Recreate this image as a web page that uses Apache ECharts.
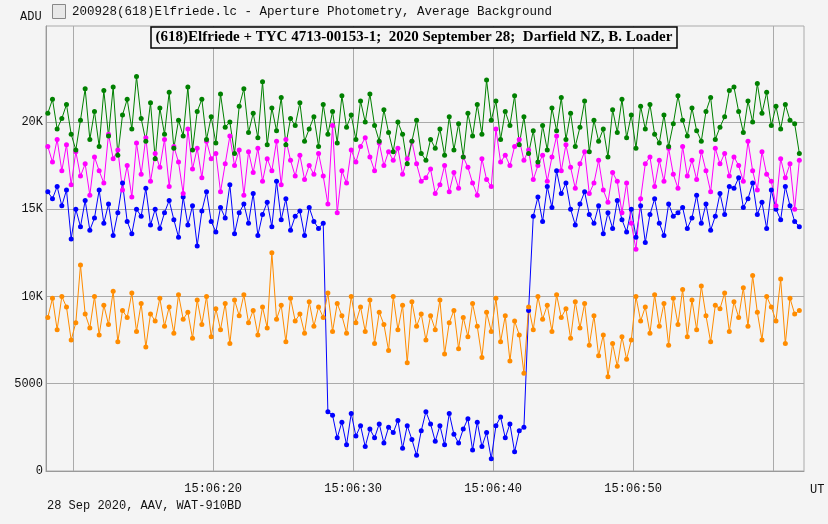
<!DOCTYPE html>
<html>
<head>
<meta charset="utf-8">
<script src="https://cdn.jsdelivr.net/npm/echarts@6/dist/echarts.min.js"></script>
<style>
html,body{margin:0;padding:0;background:#f4f4f4;}
#chart{width:828px;height:524px;}
</style>
</head>
<body>
<div id="chart"></div>
<script>
// seconds after 15:06:00, one sample every 1/3 s
var tStart = 8.2, tStep = 1 / 3;
var tickSeconds = [10, 20, 30, 40, 50, 60];
var labelSeconds = [20, 30, 40, 50];
var yTicks = [0, 5000, 10000, 15000, 20000];

// ADU in thousands, rows of one second
var blueK = [
16.0,15.6,16.3, 15.2,16.1,13.3, 15.0,14.0,15.5, 13.8,14.5,16.1, 14.2,15.3,13.5,
14.8,16.5,14.3, 13.6,15.0,14.6, 16.2,14.1,15.0, 13.9,14.8,15.5, 14.4,13.4,15.7,
14.1,15.2,12.9, 14.9,16.0,14.3, 13.7,15.1,14.5, 16.4,13.6,14.8, 15.3,14.2,15.9,
13.5,14.7,15.4, 14.0,16.6,14.4, 15.6,13.8,14.6, 14.9,13.5,15.1, 14.3,13.9,14.2,
3.4,3.2,1.9, 2.8,1.5,3.3, 2.0,2.6,1.4, 2.4,1.9,2.7, 1.6,2.5,2.2,
2.9,1.3,2.6, 1.8,0.9,2.3, 3.4,2.7,1.7, 2.6,1.5,3.3, 2.1,1.6,2.4,
3.0,1.2,2.8, 1.4,2.2,0.7, 2.6,3.1,1.9, 2.7,1.1,2.3, 2.5,9.2,14.6,
15.7,14.3,16.3, 15.1,17.2,15.9, 16.5,15.0,14.1, 15.3,16.0,14.7, 14.2,15.2,13.6,
14.8,13.9,15.5, 14.4,13.7,15.0, 13.4,15.2,13.1, 14.7,15.6,14.2, 13.5,15.3,14.6,
14.8,15.1,13.9, 14.5,15.8,14.2, 15.3,13.8,14.6, 15.9,14.7,16.3, 16.2,16.8,15.1,
15.6,16.5,14.7, 15.4,13.9,16.1, 15.0,14.4,16.3, 15.2,14.3,14.0
];
var greenK = [
20.5,21.3,19.6, 20.2,21.0,19.3, 18.4,20.1,21.9, 19.0,20.6,18.6, 21.8,19.2,22.0,
18.1,20.4,21.3, 19.6,22.6,20.2, 18.9,21.1,17.9, 20.8,19.3,21.7, 18.5,20.1,19.2,
22.0,18.4,20.6, 21.3,19.0,20.3, 18.8,21.6,19.7, 20.0,18.2,20.9, 21.9,19.4,20.5,
19.1,22.3,18.7, 20.8,19.5,21.4, 18.7,20.2,19.8, 21.1,18.9,19.6, 20.3,18.6,21.0,
19.3,20.6,18.8, 21.5,19.7,20.4, 19.0,21.2,20.0, 21.6,19.8,18.9, 20.7,19.4,18.3,
20.0,19.3,17.6, 18.9,20.1,18.2, 17.8,19.0,18.5, 19.6,18.1,20.3, 18.4,19.9,18.0,
20.5,19.2,21.0, 19.3,22.4,20.1, 21.2,19.0,20.6, 19.8,21.5,18.7, 20.3,18.2,19.5,
17.7,19.8,18.4, 20.8,19.5,21.4, 19.0,20.5,18.6, 19.7,21.2,18.3, 20.1,18.9,19.6,
18.0,20.7,19.4, 21.3,19.1,20.4, 18.5,20.9,19.6, 21.0,19.3,18.8, 20.4,18.6,19.9,
21.5,20.1,19.2, 20.8,19.5,18.9, 20.6,21.4,19.0, 19.7,20.3,21.8, 22.0,20.6,19.4,
21.2,20.0,22.2, 20.5,21.7,19.8, 20.9,19.6,21.0, 20.1,19.9,18.2
];
var magentaK = [
18.6,17.7,19.0, 17.2,18.7,16.4, 18.3,16.9,17.6, 15.8,18.0,17.2, 16.5,19.3,17.9,
18.4,16.1,17.5, 15.7,18.8,17.0, 19.1,16.6,18.2, 17.4,19.0,16.3, 18.6,17.7,15.9,
19.6,17.3,18.5, 16.8,18.9,17.9, 18.2,16.0,17.6, 19.2,17.5,18.4, 15.8,18.3,17.1,
18.5,16.6,17.9, 17.2,18.9,16.4, 19.0,17.8,16.9, 18.1,16.7,17.5, 17.0,18.2,16.9,
15.3,19.8,14.8, 17.2,16.5,18.4, 17.7,18.6,19.1, 18.0,17.2,18.8, 17.5,18.3,17.8,
18.5,17.0,17.9, 18.9,17.6,16.6, 16.8,17.3,15.9, 16.4,17.5,16.0, 17.1,16.2,18.0,
17.4,16.5,15.8, 17.9,16.7,16.3, 19.6,17.7,18.1, 17.5,18.6,19.0, 17.8,18.4,16.7,
17.5,18.1,16.6, 18.0,19.2,17.2, 18.7,17.4,16.2, 17.6,18.3,15.9, 16.5,17.8,16.1,
15.4,17.1,16.6, 14.8,16.5,14.2, 12.7,15.6,17.6, 18.0,16.3,17.8, 16.6,18.5,17.0,
16.2,18.6,16.9, 17.8,16.7,18.3, 17.2,16.0,18.5, 17.6,18.2,16.9, 18.0,17.5,16.6,
18.9,17.2,16.1, 18.3,17.0,16.6, 15.2,17.9,16.8, 17.6,15.0,17.8
];
var orangeK = [
8.8,9.9,8.1, 10.0,9.4,7.5, 8.5,11.8,9.0, 8.2,10.0,7.8, 9.5,8.4,10.3,
7.4,9.2,8.8, 10.2,8.0,9.6, 7.1,9.0,8.6, 9.9,8.3,9.4, 7.9,10.1,8.7,
9.1,7.6,9.8, 8.4,10.0,7.7, 9.3,8.1,9.6, 7.3,9.8,8.9, 10.1,8.5,9.2,
7.8,9.4,8.2, 12.5,8.7,9.5, 7.4,9.9,8.6, 9.0,7.9,9.7, 8.3,9.4,8.8,
10.2,8.0,9.6, 8.9,7.9,10.0, 8.5,9.4,8.0, 9.8,7.3,9.1, 8.4,6.9,10.0,
8.1,9.5,6.2, 9.7,8.3,9.0, 7.5,8.9,8.1, 9.8,6.7,8.5, 9.2,7.0,8.8,
7.7,9.6,8.3, 6.5,9.1,8.0, 9.9,7.4,8.9, 6.3,8.6,7.8, 5.6,9.4,8.1,
10.0,8.7,9.5, 8.0,10.1,8.8, 9.3,7.6,9.7, 8.2,9.6,7.2, 8.9,6.6,7.8,
5.4,7.3,6.0, 7.7,6.4,7.5, 10.0,8.6,9.4, 7.9,10.1,8.3, 9.6,7.2,9.9,
8.4,10.4,7.7, 9.8,8.1,10.6, 8.9,7.4,9.5, 9.3,10.2,8.0, 9.7,8.8,10.5,
8.3,11.2,9.1, 7.5,10.0,9.4, 8.6,11.0,7.3, 9.9,9.0,9.2
];

function pairs(vals){
	var out = [];
	for(var i=0;i<vals.length;i++){
		out.push([tStart + i*tStep, vals[i]*1000]);
	}
	return out;
}
function line(name,color,vals){
	return {
		name:name, type:'line', data:pairs(vals),
		symbol:'circle', symbolSize:5, showSymbol:true,
		lineStyle:{color:color,width:1}, itemStyle:{color:color},
		animation:false
	};
}

var chart = echarts.init(document.getElementById('chart'));
var mono = 'Liberation Mono';
chart.setOption({
	backgroundColor:'#f4f4f4',
	title:{
		text:'(618)Elfriede + TYC 4713-00153-1;  2020 September 28;  Darfield NZ, B. Loader',
		left:'center', top:27,
		padding:[3,5],
		borderColor:'#000', borderWidth:1.5, backgroundColor:'#f4f4f4',
		textStyle:{fontFamily:'Liberation Serif',fontWeight:'bold',fontSize:15,color:'#000'}
	},
	grid:{left:46,right:24,top:26,bottom:53,show:true,borderColor:'#aaa',borderWidth:1},
	xAxis:{
		type:'value', min:8.07, max:62.2,
		axisLine:{lineStyle:{color:'#999'}},
		axisTick:{show:false,customValues:tickSeconds},
		splitLine:{show:true,lineStyle:{color:'#aaa'}},
		axisLabel:{customValues:labelSeconds,color:'#111',fontFamily:mono,fontSize:12,margin:12,
			formatter:function(v){return '15:06:'+Math.round(v);}},
		name:'UT', nameLocation:'end', nameGap:6,
		nameTextStyle:{fontFamily:mono,fontSize:12,color:'#111',verticalAlign:'top',padding:[13,0,0,0]}
	},
	yAxis:{
		type:'value', min:0, max:25500, interval:5000,
		axisLine:{show:true,lineStyle:{color:'#999'}},
		axisTick:{show:false,customValues:yTicks},
		splitLine:{lineStyle:{color:'#aaa'}},
		axisLabel:{color:'#111',fontFamily:mono,fontSize:12,margin:3,
			customValues:yTicks,
			formatter:function(v){return v>=10000 ? (v/1000)+'K' : String(v);}}
	},
	graphic:[
		{type:'text',left:20,top:11,style:{text:'ADU',fontFamily:mono,fontSize:12,fill:'#111'}},
		{type:'rect',left:52,top:4,shape:{width:13,height:14},style:{fill:'#e8e8e8',stroke:'#888'}},
		{type:'text',left:72,top:5,style:{text:'200928(618)Elfriede.lc - Aperture Photometry, Average Background',fontFamily:mono,fontSize:12.5,fill:'#111'}},
		{type:'text',left:47,top:500,style:{text:'28 Sep 2020, AAV, WAT-910BD',fontFamily:mono,fontSize:12,fill:'#111'}}
	],
	series:[
		line('blue','#0000ff',blueK),
		line('orange','#ff8c00',orangeK),
		line('magenta','#ff00ff',magentaK),
		line('green','#008000',greenK)
	]
});
</script>
</body>
</html>
